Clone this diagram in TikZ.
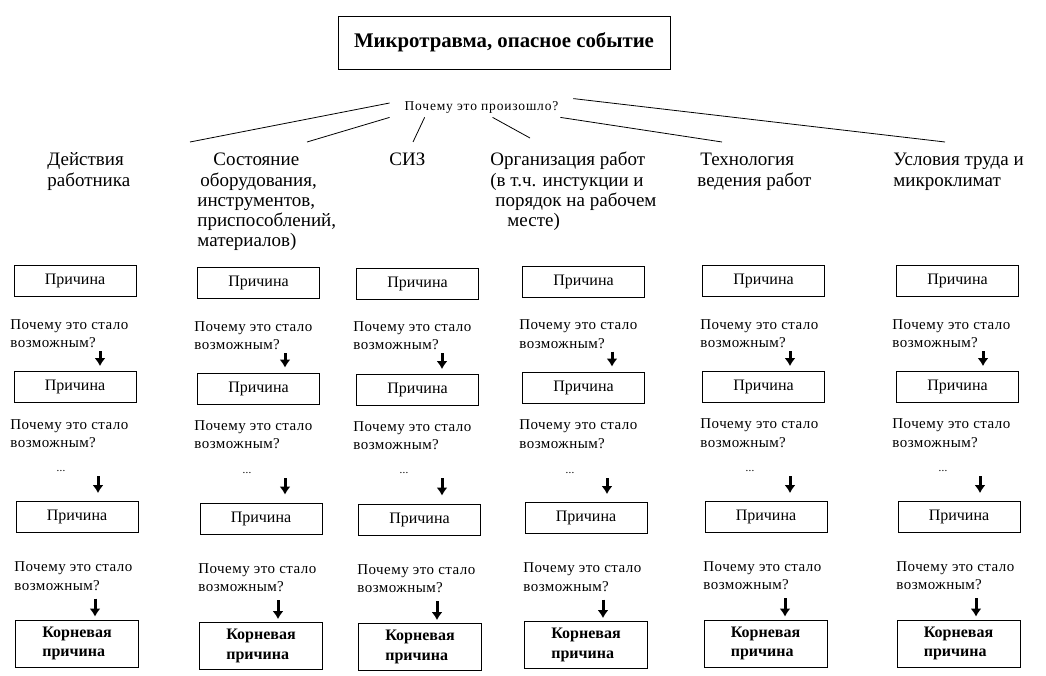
\documentclass[tikz,border=0pt]{standalone}
\usepackage{fontspec}
\setmainfont{Liberation Serif}
\newfontfamily\pixfont[LetterSpace=3]{Liberation Serif}
\usetikzlibrary{arrows.meta}

\begin{document}
\begin{tikzpicture}[x=1pt,y=-1pt,line width=0.8pt,
  eventbox/.style={draw,minimum width=332pt,minimum height=53pt,font=\fontsize{20.8}{24}\selectfont\bfseries},
  factor/.style={anchor=base west,align=left,inner sep=0pt,font=\fontsize{19}{20.25}\selectfont},
  cause/.style={draw,minimum width=122pt,minimum height=31pt,inner sep=0pt,font=\fontsize{16}{19}\selectfont},
  rootcause/.style={draw,minimum width=123pt,minimum height=47pt,align=left,font=\fontsize{16}{19.5}\selectfont\bfseries},
  why/.style={anchor=west,align=left,inner sep=0pt,font=\pixfont\fontsize{15}{18.5}\selectfont},
  more/.style={inner sep=0pt,font=\pixfont\fontsize{11}{12}\selectfont},
  downarrow/.style={line width=3pt,-{Latex[length=8pt,width=11pt]}}]

\useasboundingbox (0,0) rectangle (1046,676);

% top
\node[eventbox] (Event) at (504,42.5) {Микротравма, опасное событие};
\node[minimum width=183pt,minimum height=20pt,inner sep=0pt,font=\pixfont\fontsize{13.5}{16}\selectfont\addfontfeature{LetterSpace=6}] (Why) at (481.5,107) {Почему это произошло?};

% groups of causes (base = last line)
\node[factor] (F1) at (47,186.25) {Действия\\работника};
\node[factor] (F2) at (197,247) {\hspace*{16pt}Состояние\\\hspace*{3pt}оборудования,\\инструментов,\\приспособлений,\\материалов)};
\node[factor] (F3) at (389,166) {СИЗ};
\node[factor] (F4) at (490,226.75) {Организация работ\\(в т.ч. инстукции и\\\hspace*{5pt}порядок на рабочем\\\hspace*{17pt}месте)};
\node[factor] (F5) at (697,186.25) {\hspace*{3pt}Технология\\ведения работ};
\node[factor] (F6) at (893,186.25) {Условия труда и\\микроклимат};

\coordinate (T1) at (190,142);
\coordinate (T2) at (307,142);
\coordinate (T3) at (413,142);
\coordinate (T4) at (530,138);
\coordinate (T5) at (722,142);
\coordinate (T6) at (945,142);

\draw ([yshift=4pt]Why.west) -- (T1);
\draw (Why.south west) -- (T2);
\draw ([xshift=35pt]Why.south west) -- (T3);
\draw ([xshift=103pt]Why.south west) -- (T4);
\draw ([xshift=-13pt]Why.south east) -- (T5);
\draw ([yshift=-2pt]Why.north east) -- (T6);

% column 1
\node[cause] (C1b1) at (75,281) {Причина};
\node[why] (C1q1) at (10,333.5) {Почему это стало\\возможным?};
\node[cause] (C1b2) at (75,387) {Причина};
\node[why] (C1q2) at (10,433.5) {Почему это стало\\возможным?};
\node[more] (C1d) at (61,471) {...};
\node[cause] (C1b3) at (77,517) {Причина};
\node[why] (C1q3) at (14,576) {Почему это стало\\возможным?};
\node[rootcause] (C1r) at (77,643.5) {Корневая\\причина};

% column 2
\node[cause] (C2b1) at (258.5,282.5) {Причина};
\node[why] (C2q1) at (194,335.5) {Почему это стало\\возможным?};
\node[cause] (C2b2) at (258.5,388.5) {Причина};
\node[why] (C2q2) at (194,434.5) {Почему это стало\\возможным?};
\node[more] (C2d) at (247,473) {...};
\node[cause] (C2b3) at (261,518.5) {Причина};
\node[why] (C2q3) at (198,577.5) {Почему это стало\\возможным?};
\node[rootcause] (C2r) at (261,646) {Корневая\\причина};

% column 3
\node[cause] (C3b1) at (417.5,283.5) {Причина};
\node[why] (C3q1) at (353,335.5) {Почему это стало\\возможным?};
\node[cause] (C3b2) at (417.5,390) {Причина};
\node[why] (C3q2) at (353,435.5) {Почему это стало\\возможным?};
\node[more] (C3d) at (404,473) {...};
\node[cause] (C3b3) at (419.5,519.5) {Причина};
\node[why] (C3q3) at (357,578.5) {Почему это стало\\возможным?};
\node[rootcause] (C3r) at (420,647) {Корневая\\причина};

% column 4
\node[cause] (C4b1) at (583.5,282) {Причина};
\node[why] (C4q1) at (519,334) {Почему это стало\\возможным?};
\node[cause] (C4b2) at (583.5,387.5) {Причина};
\node[why] (C4q2) at (519,434) {Почему это стало\\возможным?};
\node[more] (C4d) at (570,473) {...};
\node[cause] (C4b3) at (586,518) {Причина};
\node[why] (C4q3) at (523,577) {Почему это стало\\возможным?};
\node[rootcause] (C4r) at (586,645) {Корневая\\причина};

% column 5
\node[cause] (C5b1) at (763.5,280.5) {Причина};
\node[why] (C5q1) at (700,333.5) {Почему это стало\\возможным?};
\node[cause] (C5b2) at (763.5,387) {Причина};
\node[why] (C5q2) at (700,433) {Почему это стало\\возможным?};
\node[more] (C5d) at (750,471) {...};
\node[cause] (C5b3) at (766,517) {Причина};
\node[why] (C5q3) at (703,575.5) {Почему это стало\\возможным?};
\node[rootcause] (C5r) at (765.5,643.5) {Корневая\\причина};

% column 6
\node[cause] (C6b1) at (957.5,280.5) {Причина};
\node[why] (C6q1) at (892,333.5) {Почему это стало\\возможным?};
\node[cause] (C6b2) at (957.5,387) {Причина};
\node[why] (C6q2) at (892,433) {Почему это стало\\возможным?};
\node[more] (C6d) at (943,471) {...};
\node[cause] (C6b3) at (959,517) {Причина};
\node[why] (C6q3) at (896,575.5) {Почему это стало\\возможным?};
\node[rootcause] (C6r) at (958.5,643.5) {Корневая\\причина};

% arrows
\draw[downarrow,shorten <=3pt,shorten >=5pt] ([xshift=25pt]C1b2.north |- C1q1.south) -- ([xshift=25pt]C1b2.north);
\draw[downarrow,shorten <=4pt,shorten >=8pt] ([xshift=21pt]C1b3.north |- C1d.south) -- ([xshift=21pt]C1b3.north);
\draw[downarrow,shorten <=8pt,shorten >=3pt] ([xshift=18pt]C1r.north |- C1q3.south) -- ([xshift=18pt]C1r.north);
\draw[downarrow,shorten <=3pt,shorten >=5pt] ([xshift=26.5pt]C2b2.north |- C2q1.south) -- ([xshift=26.5pt]C2b2.north);
\draw[downarrow,shorten <=4pt,shorten >=8pt] ([xshift=24pt]C2b3.north |- C2d.south) -- ([xshift=24pt]C2b3.north);
\draw[downarrow,shorten <=8pt,shorten >=3pt] ([xshift=17pt]C2r.north |- C2q3.south) -- ([xshift=17pt]C2r.north);
\draw[downarrow,shorten <=3pt,shorten >=5pt] ([xshift=24.5pt]C3b2.north |- C3q1.south) -- ([xshift=24.5pt]C3b2.north);
\draw[downarrow,shorten <=4pt,shorten >=8pt] ([xshift=22.5pt]C3b3.north |- C3d.south) -- ([xshift=22.5pt]C3b3.north);
\draw[downarrow,shorten <=8pt,shorten >=3pt] ([xshift=17pt]C3r.north |- C3q3.south) -- ([xshift=17pt]C3r.north);
\draw[downarrow,shorten <=3pt,shorten >=5pt] ([xshift=28.5pt]C4b2.north |- C4q1.south) -- ([xshift=28.5pt]C4b2.north);
\draw[downarrow,shorten <=4pt,shorten >=8pt] ([xshift=21pt]C4b3.north |- C4d.south) -- ([xshift=21pt]C4b3.north);
\draw[downarrow,shorten <=8pt,shorten >=3pt] ([xshift=17pt]C4r.north |- C4q3.south) -- ([xshift=17pt]C4r.north);
\draw[downarrow,shorten <=3pt,shorten >=5pt] ([xshift=26.5pt]C5b2.north |- C5q1.south) -- ([xshift=26.5pt]C5b2.north);
\draw[downarrow,shorten <=4pt,shorten >=8pt] ([xshift=24pt]C5b3.north |- C5d.south) -- ([xshift=24pt]C5b3.north);
\draw[downarrow,shorten <=8pt,shorten >=3pt] ([xshift=19.5pt]C5r.north |- C5q3.south) -- ([xshift=19.5pt]C5r.north);
\draw[downarrow,shorten <=3pt,shorten >=5pt] ([xshift=25.5pt]C6b2.north |- C6q1.south) -- ([xshift=25.5pt]C6b2.north);
\draw[downarrow,shorten <=4pt,shorten >=8pt] ([xshift=21pt]C6b3.north |- C6d.south) -- ([xshift=21pt]C6b3.north);
\draw[downarrow,shorten <=8pt,shorten >=3pt] ([xshift=17.5pt]C6r.north |- C6q3.south) -- ([xshift=17.5pt]C6r.north);
\end{tikzpicture}
\end{document}
